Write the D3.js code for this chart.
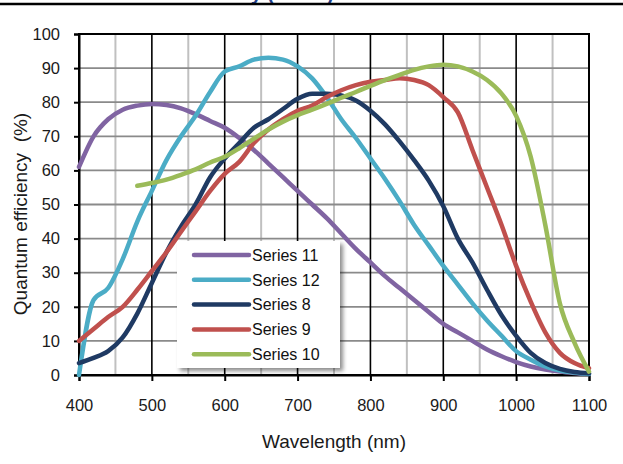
<!DOCTYPE html>
<html>
<head>
<meta charset="utf-8">
<script src="https://cdn.jsdelivr.net/npm/d3@7"></script>
<style>
  body { margin: 0; background: #fff; }
  svg { display: block; font-family: "Liberation Sans", Arial, sans-serif; }
</style>
</head>
<body>
<div id="qe-graph"></div>
<script>
// wavelength samples (nm)
var wavelengths = [400, 420, 440, 460, 480, 500, 520, 540, 560, 580, 600, 620, 640, 660, 680, 700, 720, 740,
                   760, 780, 800, 820, 840, 860, 880, 900, 920, 940, 960, 980, 1000, 1020, 1040, 1060, 1080, 1100];

// quantum efficiency (%)
var series11 = [61, 70, 75, 77.8, 79, 79.5, 79.2, 78.2, 76.5, 74.5, 72.5, 69.5, 66, 62, 58, 54, 50, 46,
                41.5, 37, 33, 29, 25.5, 22, 18.5, 15, 12.5, 10, 7.5, 5.5, 3.8, 2.5, 1.6, 1, 0.6, 0.3];
var series12 = [0, 22, 25.5, 34, 45, 54, 63, 70, 76, 83, 89, 90.5, 92.5, 93, 92.5, 90.5, 87, 81.5,
                75, 69.5, 63.5, 57.5, 51, 44, 38, 32, 26.5, 21, 16, 11.5, 7, 4.5, 2.5, 1.3, 0.7, 0.3];
var series8  = [3.5, 5, 7, 11, 18, 27, 36, 43.5, 50, 58, 63.5, 68, 72.5, 75, 78, 81, 82.5, 82.5,
                82, 80.5, 77.5, 73.5, 68.5, 63, 57, 49.5, 40, 33, 25, 17.5, 11.5, 6.5, 3.5, 1.8, 0.9, 0.5];
var series9  = [10, 13.5, 17, 20, 25, 30.5, 36, 42, 48, 54, 59, 62.5, 68, 72, 75, 77.5, 79, 81.5,
                83.5, 85, 86, 86.5, 87, 86.5, 85, 81.5, 77, 66, 55, 44, 32, 21.5, 12.5, 6.5, 3.5, 2];
var series10 = [null, null, null, null, 55.5, 56.3, 57.3, 58.7, 60.3, 62.3, 64, 66.5, 69.3, 72, 74.3, 76.2, 77.8, 79.5,
                81.3, 83, 84.8, 86.5, 88, 89.5, 90.5, 91, 90.5, 89, 86.5, 82.5, 76, 64, 44, 21, 9.5, 1];

var seriesNames = ["Series 11", "Series 12", "Series 8", "Series 9", "Series 10"];
var seriesColors = ["#8064a2", "#4bacc6", "#1f3a63", "#c0504d", "#9bbb59"];
var seriesValues = [series11, series12, series8, series9, series10];

var xTicks = [400, 500, 600, 700, 800, 900, 1000, 1100];
var xMinor = [450, 550, 650, 750, 850, 950, 1050];
var yTicks = [0, 10, 20, 30, 40, 50, 60, 70, 80, 90, 100];

var width = 623, height = 464;
var margin = {top: 34, right: 34, bottom: 89, left: 79};
var w = width - margin.left - margin.right,
    h = height - margin.top - margin.bottom;

var svg = d3.select("#qe-graph").append("svg")
    .attr("width", width)
    .attr("height", height);

// page heading (cut off at the top edge, as on the page) and its rule
svg.append("text")
    .attr("x", 334)
    .attr("y", 0)
    .attr("text-anchor", "end")
    .attr("fill", "#1f3f8a")
    .style("font-size", "20px")
    .style("font-weight", "bold")
    .text("Relative Sensitivity (Mono)");
svg.append("line")
    .attr("x1", 0).attr("x2", width)
    .attr("y1", 4).attr("y2", 4)
    .attr("stroke", "#000")
    .attr("stroke-width", 2.5);

var defs = svg.append("defs");
var shadow = defs.append("filter").attr("id", "shadow")
    .attr("x", "-10%").attr("y", "-10%").attr("width", "130%").attr("height", "130%");
shadow.append("feDropShadow")
    .attr("dx", 3).attr("dy", 3)
    .attr("stdDeviation", 2)
    .attr("flood-color", "#000")
    .attr("flood-opacity", 0.45);

var g = svg.append("g").attr("transform", "translate(" + margin.left + "," + margin.top + ")");

var x = d3.scaleLinear().domain([400, 1100]).range([0, w]);
var y = d3.scaleLinear().domain([0, 100]).range([h, 0]);

// grid
g.append("g").selectAll("line").data(xMinor).enter().append("line")
    .attr("x1", function(d) { return x(d); }).attr("x2", function(d) { return x(d); })
    .attr("y1", 0).attr("y2", h)
    .attr("stroke", "#c0c0c0").attr("stroke-width", 2);
g.append("g").selectAll("line").data(yTicks.slice(1, -1)).enter().append("line")
    .attr("x1", 0).attr("x2", w)
    .attr("y1", function(d) { return y(d); }).attr("y2", function(d) { return y(d); })
    .attr("stroke", "#8a8a8a").attr("stroke-width", 1.8);
g.append("g").selectAll("line").data(xTicks.slice(1, -1)).enter().append("line")
    .attr("x1", function(d) { return x(d); }).attr("x2", function(d) { return x(d); })
    .attr("y1", 0).attr("y2", h)
    .attr("stroke", "#000").attr("stroke-width", 1.6);

g.append("rect")
    .attr("width", w).attr("height", h)
    .attr("fill", "none")
    .attr("stroke", "#000").attr("stroke-width", 2);

// axes
var yAxis = g.append("g")
    .call(d3.axisLeft(y).tickValues(yTicks).tickSize(5).tickPadding(14));
var xAxis = g.append("g")
    .attr("transform", "translate(0," + h + ")")
    .call(d3.axisBottom(x).tickValues(xTicks).tickFormat(d3.format("d")).tickSize(6).tickPadding(18));
[xAxis, yAxis].forEach(function(a) {
    a.select(".domain").attr("stroke-width", 2);
    a.selectAll(".tick line").attr("stroke-width", 2);
    a.selectAll("text").attr("fill", "#1a1a1a").style("font-size", "16.5px")
        .style("font-family", "'Liberation Sans', Arial, sans-serif");
});

svg.append("text")
    .attr("x", margin.left + w / 2)
    .attr("y", 448)
    .attr("text-anchor", "middle")
    .attr("fill", "#1a1a1a")
    .style("font-size", "19px")
    .text("Wavelength (nm)");
svg.append("text")
    .attr("transform", "translate(27,214) rotate(-90)")
    .attr("text-anchor", "middle")
    .attr("fill", "#1a1a1a")
    .style("font-size", "19px")
    .style("white-space", "pre")
    .text("Quantum efficiency  (%)");

// curves
var line = d3.line()
    .defined(function(d) { return d.v !== null; })
    .x(function(d) { return x(d.wl); })
    .y(function(d) { return y(d.v); })
    .curve(d3.curveMonotoneX);

seriesValues.forEach(function(vals, i) {
    var pts = wavelengths.map(function(wl, j) { return {wl: wl, v: vals[j]}; });
    g.append("path")
        .datum(pts)
        .attr("fill", "none")
        .attr("stroke", seriesColors[i])
        .attr("stroke-width", 4.5)
        .attr("stroke-linecap", "round")
        .attr("stroke-linejoin", "round")
        .attr("d", line);
});

// legend
var legend = svg.append("g").attr("transform", "translate(177,241)");
legend.append("rect")
    .attr("width", 163).attr("height", 127)
    .attr("fill", "#fff")
    .attr("filter", "url(#shadow)");
var item = legend.selectAll(".item").data(seriesNames).enter().append("g")
    .attr("transform", function(d, i) { return "translate(0," + (14 + i * 24.8) + ")"; });
item.append("line")
    .attr("x1", 17).attr("x2", 72)
    .attr("stroke", function(d, i) { return seriesColors[i]; })
    .attr("stroke-width", 4.5)
    .attr("stroke-linecap", "round");
item.append("text")
    .attr("x", 75)
    .attr("dy", "0.36em")
    .style("font-size", "16px")
    .attr("fill", "#111")
    .text(function(d) { return d; });
</script>
</body>
</html>
